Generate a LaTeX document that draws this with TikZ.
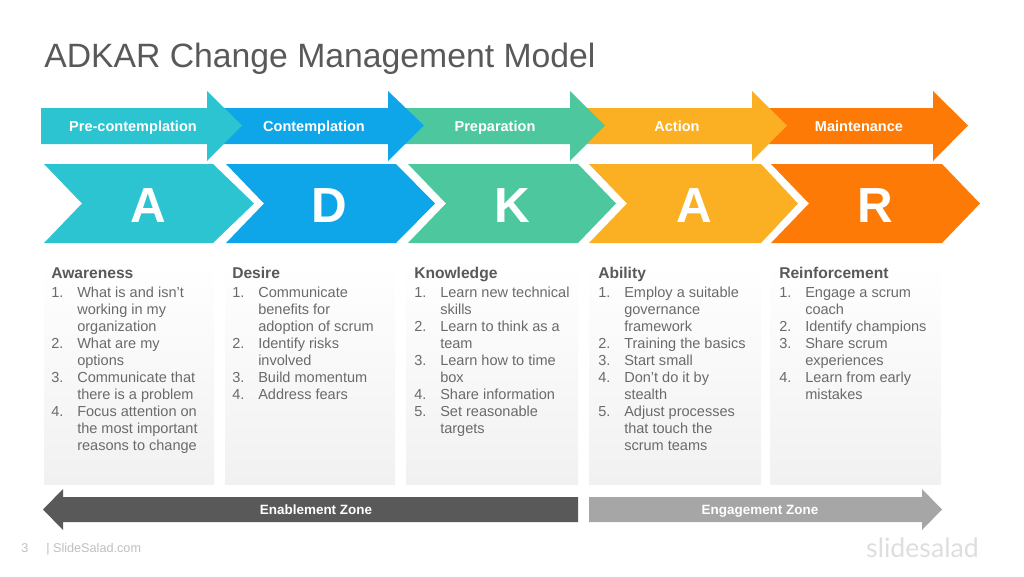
\documentclass[tikz,border=0pt]{standalone}
\usepackage{fontspec}
\setmainfont{Liberation Sans}
\newfontfamily\logofont{Lato}
\usepackage{xcolor}
\definecolor{adkarteal}{HTML}{2DC4D2}
\definecolor{adkarblue}{HTML}{0FA6E9}
\definecolor{adkargreen}{HTML}{4DC89E}
\definecolor{adkaryellow}{HTML}{FBB023}
\definecolor{adkarorange}{HTML}{FC7A05}
\definecolor{zonedark}{HTML}{595959}
\definecolor{zonelight}{HTML}{A6A6A6}
\definecolor{bodygray}{HTML}{6A6A6A}
\definecolor{boxgray}{HTML}{F1F1F1}
\usetikzlibrary{positioning, calc}
\def\raster{0.75pt}
\newlength{\numwidth}
\setlength{\numwidth}{19.5pt}
\def\itm#1{\makebox[\numwidth][l]{#1.}}
\def\cnt{\hspace*{\numwidth}}
\tikzset{
    stagelabel/.style={anchor=base, white, font=\fontsize{10.9}{12}\selectfont\bfseries, inner sep=0},
    zonelabel/.style={anchor=base, white, font=\fontsize{10.1}{12}\selectfont\bfseries, inner sep=0},
    letterlabel/.style={anchor=base, white, font=\fontsize{37}{40}\selectfont\bfseries, inner sep=0},
    columnhead/.style={anchor=base west, zonedark, font=\fontsize{11.7}{13}\selectfont\bfseries, inner sep=0},
    columnlist/.style={anchor=north west, bodygray, align=left, inner sep=0,
        font=\fontsize{10.9}{12.75}\selectfont},
    footnote/.style={anchor=base west, black!25, font=\fontsize{9.5}{11}\selectfont, inner sep=0}
}
\begin{document}
\begin{tikzpicture}[x=\raster, y=-\raster]
    \useasboundingbox (0,0) rectangle (1024,576);

    % title
    \node[anchor=base west, zonedark, font=\fontsize{25.3}{30}\selectfont, inner sep=0]
        (title) at (44,67) {ADKAR Change Management Model};

    % stage arrows, last one first so that each tip lies on the next
    \foreach \start/\base/\tip/\co/\name/\txt/\cx in {
        769/933/968/adkarorange/maintenance/Maintenance/859,
        587/752/787/adkaryellow/action/Action/677,
        405/570/605/adkargreen/preparation/Preparation/495,
        223/388/424/adkarblue/contemplation/Contemplation/314,
        41/207/242/adkarteal/precontemplation/Pre-contemplation/133}
    {
        \fill[\co] (\start,108) -- (\base,108) -- (\base,91) -- (\tip,125.5)
            -- (\base,161) -- (\base,144) -- (\start,144) -- cycle;
        \node[stagelabel] (\name) at (\cx,131) {\txt};
    }

    % chevrons
    \foreach \left/\notch/\top/\tip/\co/\name/\txt/\cx in {
        44/82/213/254/adkarteal/letterA/A/148,
        226/264/396/435/adkarblue/letterD/D/329,
        408/446/578/616/adkargreen/letterK/K/512,
        589/627/761/798/adkaryellow/letterB/A/694,
        771/809/942/980/adkarorange/letterR/R/875}
    {
        \fill[\co] (\left,164) -- (\top,164) -- (\tip,203.5) -- (\top,243)
            -- (\left,243) -- (\notch,203.5) -- cycle;
        \node[letterlabel] (\name) at (\cx,222) {\txt};
    }

    % column backgrounds
    \foreach \left/\right in {44/214, 225/395, 406/578, 589/761, 770/941}
    {
        \shade[top color=white, bottom color=boxgray] (\left,262) rectangle (\right,484);
    }

    % column heads
    \foreach \x/\name/\txt in {
        51/headA/Awareness,
        232/headD/Desire,
        414/headK/Knowledge,
        598/headB/Ability,
        779/headR/Reinforcement}
    {
        \node[columnhead] (\name) at (\x,278) {\txt};
    }

    % column lists
    \node[columnlist] (listA) at (51,286.5) {%
        \itm{1}What is and isn't\\ \cnt working in my\\ \cnt organization\\
        \itm{2}What are my\\ \cnt options\\
        \itm{3}Communicate that\\ \cnt there is a problem\\
        \itm{4}Focus attention on\\ \cnt the most important\\ \cnt reasons to change};
    \node[columnlist] (listD) at (232,286.5) {%
        \itm{1}Communicate\\ \cnt benefits for\\ \cnt adoption of scrum\\
        \itm{2}Identify risks\\ \cnt involved\\
        \itm{3}Build momentum\\
        \itm{4}Address fears};
    \node[columnlist] (listK) at (414,286.5) {%
        \itm{1}Learn new technical\\ \cnt skills\\
        \itm{2}Learn to think as a\\ \cnt team\\
        \itm{3}Learn how to time\\ \cnt box\\
        \itm{4}Share information\\
        \itm{5}Set reasonable\\ \cnt targets};
    \node[columnlist] (listB) at (598,286.5) {%
        \itm{1}Employ a suitable\\ \cnt governance\\ \cnt framework\\
        \itm{2}Training the basics\\
        \itm{3}Start small\\
        \itm{4}Don't do it by\\ \cnt stealth\\
        \itm{5}Adjust processes\\ \cnt that touch the\\ \cnt scrum teams};
    \node[columnlist] (listR) at (779,287.5) {%
        \itm{1}Engage a scrum\\ \cnt coach\\
        \itm{2}Identify champions\\
        \itm{3}Share scrum\\ \cnt experiences\\
        \itm{4}Learn from early\\ \cnt mistakes};

    % zone arrows
    \fill[zonedark] (578,497) -- (63,497) -- (63,489) -- (43,509.5)
        -- (63,530) -- (63,522) -- (578,522) -- cycle;
    \node[zonelabel] (enablement) at (316,514) {Enablement Zone};
    \fill[zonelight] (589,497) -- (922,497) -- (922,489) -- (942,509.5)
        -- (922,530) -- (922,522) -- (589,522) -- cycle;
    \node[zonelabel] (engagement) at (760,514) {Engagement Zone};

    % footer
    \node[footnote] (pagenumber) at (21,552) {3};
    \node[footnote] (sitename) at (46,552) {| SlideSalad.com};
    \node[anchor=base east, black!13, font=\logofont\fontsize{20}{22}\selectfont, inner sep=0]
        (logo) at (979,557) {slidesalad};
\end{tikzpicture}
\end{document}
